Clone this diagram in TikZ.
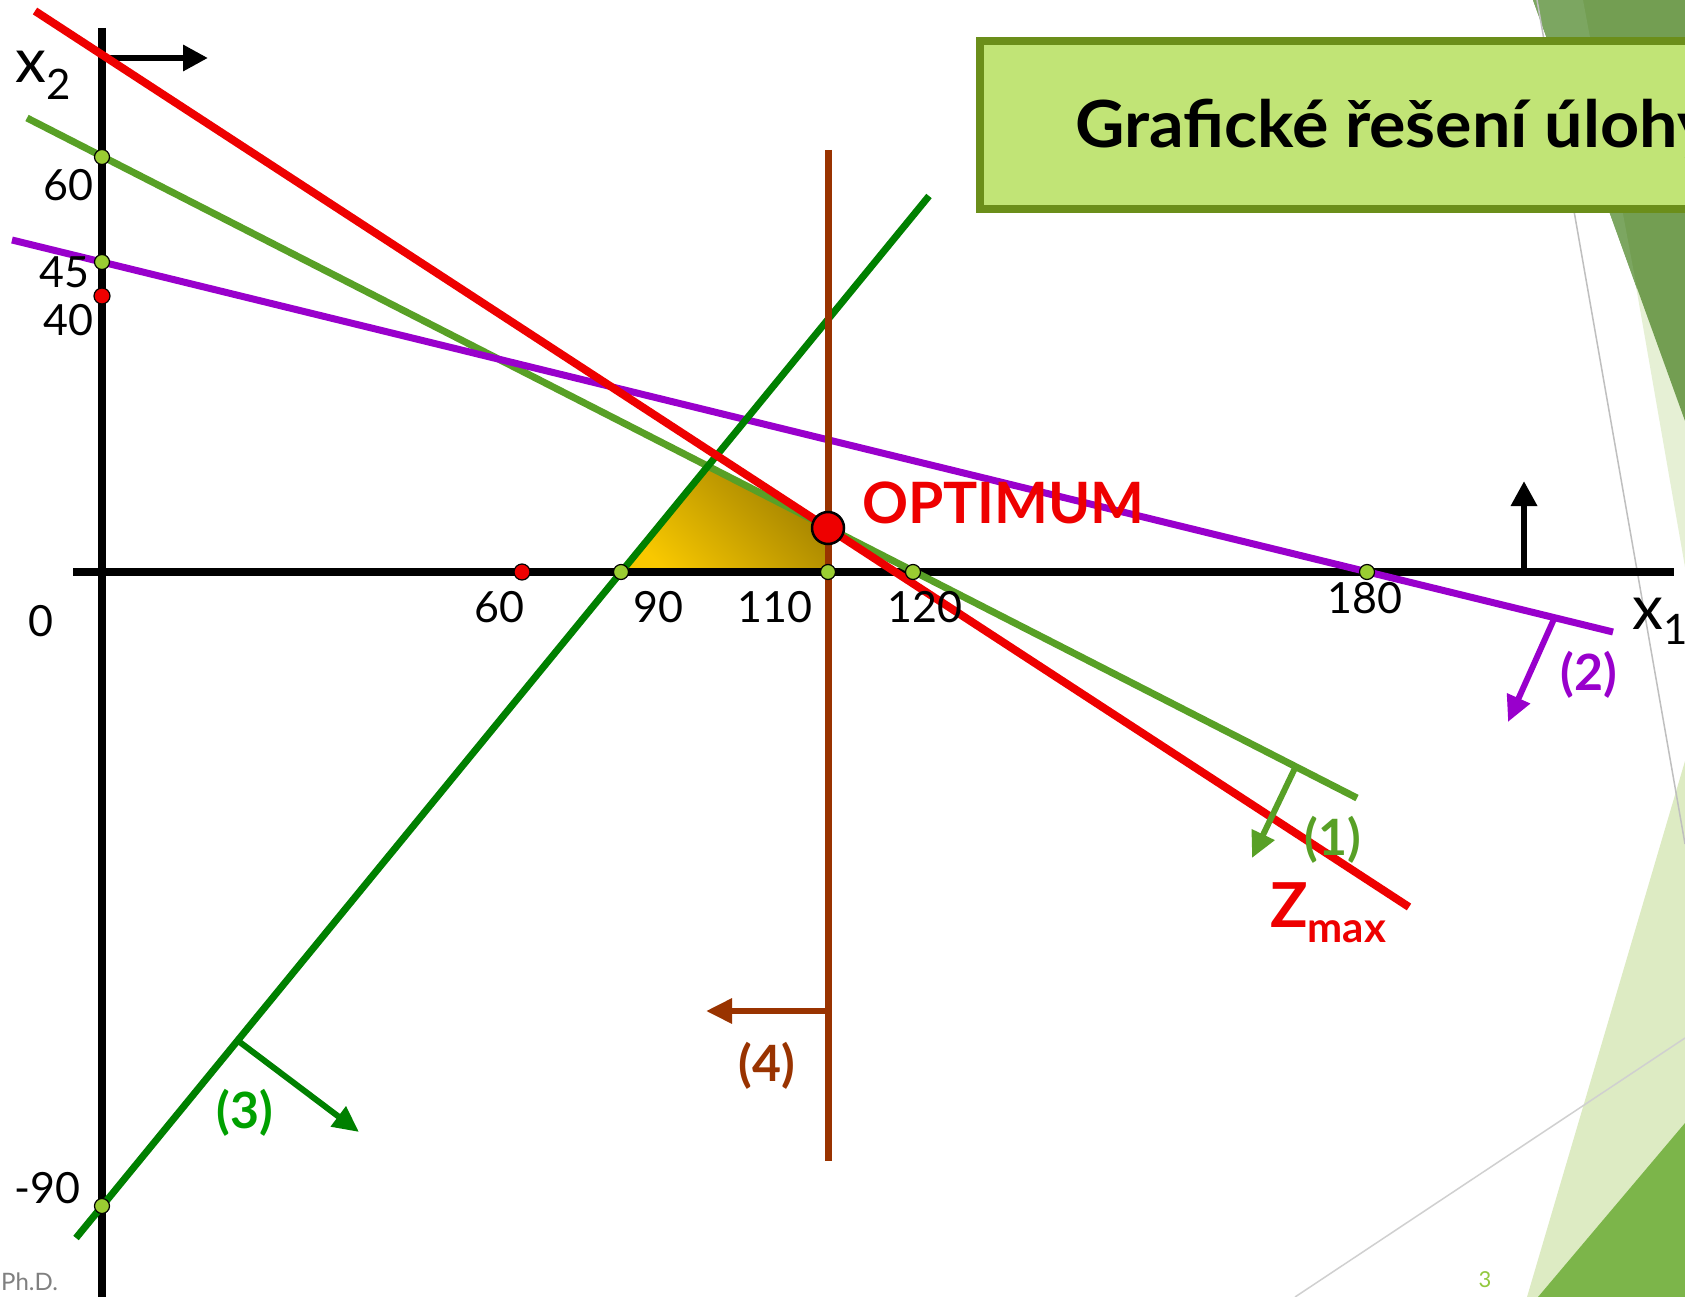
\documentclass[tikz,border=0pt]{standalone}
\usepackage{fontspec}
\usepackage{graphicx}
\setmainfont{Lato}
\usetikzlibrary{arrows.meta}
\definecolor{redL}{RGB}{238,0,0}
\definecolor{greenL}{RGB}{88,160,38}
\definecolor{purpleL}{RGB}{153,0,204}
\definecolor{dgreenL}{RGB}{0,128,0}
\definecolor{lab3}{RGB}{0,160,0}
\definecolor{brownL}{RGB}{153,51,0}
\definecolor{dotgreen}{RGB}{154,205,50}
\definecolor{titlefill}{RGB}{193,228,118}
\definecolor{titleborder}{RGB}{107,142,26}
\definecolor{decodark}{RGB}{115,158,82}
\definecolor{decostripe}{RGB}{124,166,97}
\definecolor{decolight}{RGB}{230,240,213}
\definecolor{decolightb}{RGB}{221,235,195}
\definecolor{decodarkb}{RGB}{124,181,74}
\definecolor{grayA}{RGB}{191,191,191}
\definecolor{grayB}{RGB}{208,208,208}
\definecolor{pagenum}{RGB}{146,200,62}
\definecolor{regyellow}{RGB}{248,200,0}
\definecolor{regdark}{RGB}{160,128,0}
\begin{document}
\begin{tikzpicture}[x=1pt,y=-1pt,
  axisline/.style={line width=8pt,black},
  plotline/.style={line width=7pt},
  normarrow/.style={line width=6pt,-{Triangle[length=26pt,width=24pt]}},
  axisarrow/.style={line width=6.5pt,black,-{Triangle[length=25pt,width=25pt]}},
  dotg/.style={circle,draw=black,line width=1.2pt,fill=dotgreen,minimum size=15pt,inner sep=0pt},
  dotr/.style={circle,draw=black,line width=1.2pt,fill=redL,minimum size=16pt,inner sep=0pt},
  num/.style={font=\fontsize{43}{43}\selectfont,inner sep=0pt},
  lab/.style={font=\bfseries\fontsize{50}{50}\selectfont,inner sep=0pt}]
\useasboundingbox (0,0) rectangle (1685,1297);
\begin{scope}
\clip (0,0) rectangle (1685,1297);
\fill[white] (0,0) rectangle (1685,1297);
% background decoration
\fill[decolight] (1586,0) -- (1685,0) -- (1685,567) -- cycle;
\fill[decodark] (1533,0) -- (1685,0) -- (1685,421) -- cycle;
\fill[decostripe] (1533,0) -- (1583,0) -- (1637,289) -- cycle;
\fill[decolightb] (1685,761) -- (1685,1297) -- (1527,1297) -- cycle;
\fill[decodarkb] (1685,1123) -- (1685,1297) -- (1538,1297) -- cycle;
\draw[grayA,line width=1.5pt] (1537,0) -- (1685,844);
\draw[grayB,line width=1.5pt] (1295,1297) -- (1685,1038);
% title box
\draw[line width=8pt,draw=titleborder,fill=titlefill] (980,41) rectangle (1700,209);
\node[anchor=base west,font=\bfseries\fontsize{65}{65}\selectfont,inner sep=0pt] (title) at (1075,148) {\scalebox{1.05}[1]{Grafické řešení úlohy}};
% coordinates
\coordinate (yTop) at (102,28);
\coordinate (yBot) at (102,1300);
\coordinate (xL) at (73,572);
\coordinate (xR) at (1674,572);
\coordinate (yArrS) at (102,58);
\coordinate (yArrE) at (208,58);
\coordinate (xArrS) at (1524,572);
\coordinate (xArrE) at (1524,481);
\coordinate (rA) at (35,11);
\coordinate (rB) at (1409,907);
\coordinate (gA) at (27,118);
\coordinate (gB) at (1357,798);
\coordinate (pA) at (12,240);
\coordinate (pB) at (1613,632);
\coordinate (dA) at (76,1238);
\coordinate (dB) at (929,196);
\coordinate (bA) at (828,150);
\coordinate (bB) at (828,1161);
\coordinate (v1) at (621,572);
\coordinate (v2) at (707,467);
\coordinate (v3) at (828,528);
\coordinate (v4) at (828,572);
\coordinate (n1s) at (1295,768);
\coordinate (n1e) at (1252,858);
\coordinate (n2s) at (1554,619);
\coordinate (n2e) at (1508,722);
\coordinate (n3s) at (237,1040);
\coordinate (n3e) at (359,1132);
\coordinate (n4s) at (828,1011);
\coordinate (n4e) at (706,1011);
% feasible region
\shade[top color=regdark,bottom color=regyellow,shading angle=-45] (v1) -- (v2) -- (v3) -- (v4) -- cycle;
% axes
\draw[axisline] (yTop) -- (yBot);
\draw[axisline] (xL) -- (xR);
\draw[axisarrow] (yArrS) -- (yArrE);
\draw[axisarrow] (xArrS) -- (xArrE);
% constraint lines
\draw[plotline,greenL] (gA) -- (gB);
\draw[plotline,purpleL] (pA) -- (pB);
\draw[plotline,dgreenL] (dA) -- (dB);
\draw[plotline,brownL] (bA) -- (bB);
\draw[line width=8pt,redL] (rA) -- (rB);
% normal arrows
\draw[normarrow,greenL] (n1s) -- (n1e);
\draw[normarrow,purpleL] (n2s) -- (n2e);
\draw[normarrow,dgreenL] (n3s) -- (n3e);
\draw[normarrow,brownL] (n4s) -- (n4e);
% dots
\node[dotg] (q60) at (102,157) {};
\node[dotg] (q45) at (102,262) {};
\node[dotr] (q40) at (102,296) {};
\node[dotg] (qm90) at (102,1206) {};
\node[dotr] (p60) at (522,572) {};
\node[dotg] (p90) at (621,572) {};
\node[dotg] (p110) at (828,572) {};
\node[dotg] (p120) at (913,572) {};
\node[dotg] (p180) at (1367,572) {};
\node[circle,draw=black,line width=2.5pt,fill=redL,minimum size=32pt,inner sep=0pt] (opt) at (v3) {};
% axis numbers
\node[num] (t60) at (68,185) {60};
\node[num] (t45) at (64,272) {45};
\node[num] (t40) at (68,320) {40};
\node[num] (tm90) at (47,1188) {-90};
\node[num] (t0) at (41,621) {0};
\node[num] (s60) at (499,607) {60};
\node[num] (s90) at (658,607) {90};
\node[num] (s110) at (775,607) {110};
\node[num] (s120) at (925,607) {120};
\node[num] (s180) at (1365,598) {180};
% axis names
\node[anchor=base west,inner sep=0pt,font=\fontsize{62}{62}\selectfont] (x2) at (15,83) {x\raisebox{-17pt}{\fontsize{42}{42}\selectfont 2}};
\node[anchor=base west,inner sep=0pt,font=\fontsize{62}{62}\selectfont] (x1) at (1632,629) {x\raisebox{-15pt}{\fontsize{42}{42}\selectfont 1}};
% labels
\node[anchor=base west,inner sep=0pt,text=redL,font=\bfseries\fontsize{57}{57}\selectfont] (optl) at (862,523) {OPTIMUM};
\node[anchor=base west,inner sep=0pt,text=redL,font=\bfseries\fontsize{62}{62}\selectfont] (zmax) at (1270,927) {Z\raisebox{-15pt}{\fontsize{42}{42}\selectfont max}};
\node[lab,text=greenL] (l1) at (1333,840) {(1)};
\node[lab,text=purpleL] (l2) at (1589,675) {(2)};
\node[lab,text=lab3] (l3) at (245,1113) {(3)};
\node[lab,text=brownL] (l4) at (767,1066) {(4)};
% footer
\node[anchor=west,inner sep=0pt,text=gray,font=\fontsize{24}{24}\selectfont] (foot) at (1,1282) {Ph.D.};
\node[inner sep=0pt,text=pagenum,font=\fontsize{22}{22}\selectfont] (pg) at (1485,1280) {3};
\end{scope}
\end{tikzpicture}
\end{document}
